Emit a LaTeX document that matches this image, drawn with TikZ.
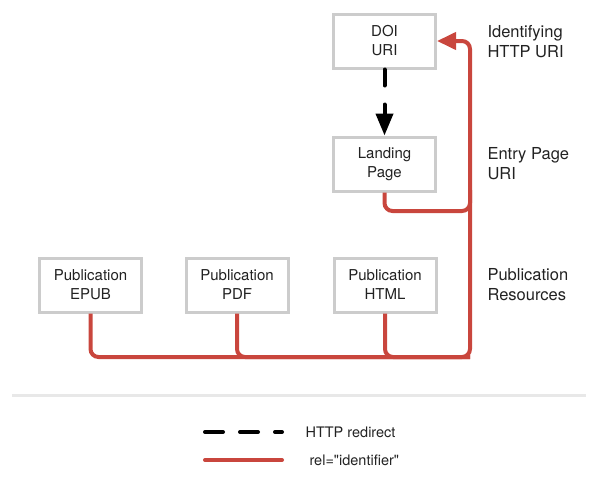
\documentclass[tikz,border=0pt]{standalone}
\usepackage{fontspec}
\setmainfont{TeX Gyre Heros}
\newfontfamily\plainheros{TeX Gyre Heros}
\usetikzlibrary{arrows.meta}
\definecolor{relred}{HTML}{C9463D}
\definecolor{boxgray}{HTML}{CCCCCC}
\definecolor{rulegray}{HTML}{E8E8E8}
\definecolor{textgray}{HTML}{222222}
\begin{document}
\begin{tikzpicture}[
        x=1pt, y=-1pt,
        font=\fontsize{15}{19}\selectfont
    ]
    \tikzset{
        resbox/.style = {rectangle, draw=boxgray, line width=3pt, align=center, fill=white,
                         text=textgray, minimum width=102pt, minimum height=54pt},
        sidelabel/.style = {anchor=west, align=left, text=textgray, font=\fontsize{16.5}{20}\selectfont},
        legendlabel/.style = {anchor=west, text=textgray, font=\fontsize{14.5}{18}\selectfont},
        edger/.style = {line width=4pt, relred, rounded corners=8pt},
        edgeb/.style = {line width=4pt, black, dash pattern=on 16pt off 19pt, line cap=round},
    }
    \useasboundingbox (0,0) rectangle (599,479);
    %
    \node[resbox] at (384.5,41) (doi) {DOI\\URI};
    \node[resbox] at (384.5,164) (landing) {Landing\\Page};
    \node[resbox] at (90.5,285) (epub) {Publication\\EPUB};
    \node[resbox] at (237,285) (pdf) {Publication\\PDF};
    \node[resbox] at (385,285) (html) {Publication\\HTML};
    %
    \node[sidelabel] at (484,42) (idlabel) {Identifying\\HTTP URI};
    \node[sidelabel] at (484,164) (entrylabel) {Entry Page\\URI};
    \node[sidelabel] at (484,285) (reslabel) {Publication\\Resources};
    %
    \coordinate (busr) at (470,357);
    \coordinate (join) at (470,211);
    \coordinate (joinup) at (470,190);
    %
    \draw[edgeb, -{Triangle[length=22pt,width=17pt]}] (doi.south) -- (landing.north);
    \draw[edger] (pdf.south) |- (busr);
    \draw[edger] (html.south) |- (busr);
    \draw[edger] (landing.south) |- (join) -- (joinup);
    \draw[edger, -{Triangle[length=19pt,width=17pt]}] (epub.south) |- (busr) |- (doi.east);
    %
    \draw[rulegray, line width=3pt] (12,395) -- (586,395);
    %
    \coordinate (lga) at (205,432);
    \coordinate (lgb) at (282,432);
    \coordinate (lgc) at (205,460);
    \coordinate (lgd) at (282,460);
    \draw[edgeb, dash pattern=on 18pt off 17pt] (lga) -- (lgb);
    \draw[edger, line cap=round] (lgc) -- (lgd);
    \node[legendlabel] at (302,432) (redirlabel) {HTTP redirect};
    \node[legendlabel] at (306,460) (rellabel) {\plainheros rel="identifier"};
\end{tikzpicture}
\end{document}
